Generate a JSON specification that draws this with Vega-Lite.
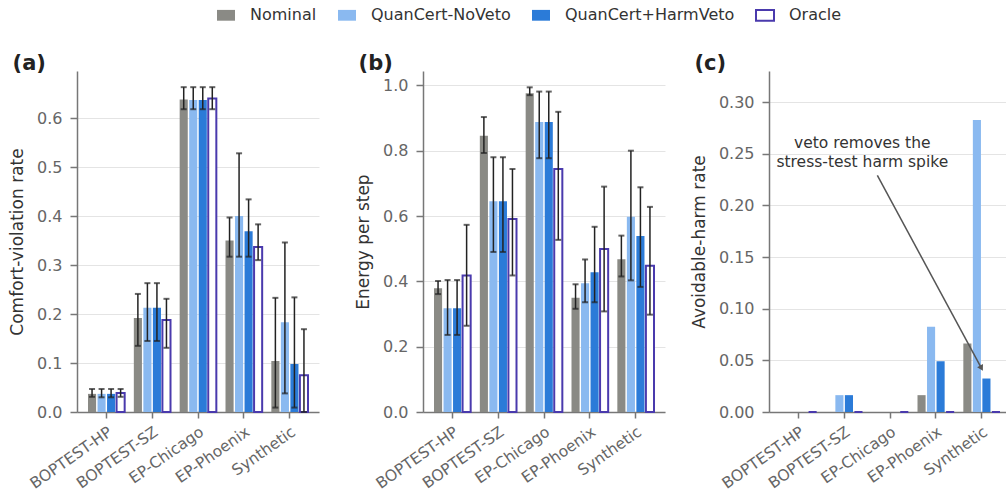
{
  "$schema": "https://vega.github.io/schema/vega-lite/v6.json",
  "padding": {"left": 8, "top": 5, "right": 0, "bottom": 0},
  "background": "white",
  "config": {
    "view": {"stroke": null},
    "font": "DejaVu Sans",
    "axis": {
      "labelFont": "DejaVu Sans", "labelFontSize": 16, "labelColor": "#666666",
      "titleFont": "DejaVu Sans", "titleFontSize": 17, "titleColor": "#333333", "titleFontWeight": "normal",
      "domainColor": "#777777", "domainWidth": 1.5, "tickColor": "#777777", "tickWidth": 1.5, "tickSize": 7,
      "labelPadding": 8, "titlePadding": 10, "gridColor": "#e4e4e4", "gridWidth": 1
    },
    "axisX": {"grid": false, "labelAngle": -35, "labelAlign": "right", "labelBaseline": "top", "labelPadding": 6, "tickSize": 6, "title": null, "labelFontSize": 15.5},
    "legend": {"labelLimit": 400},
    "title": {"font": "DejaVu Sans", "fontSize": 21, "fontWeight": "bold", "color": "#222222", "anchor": "start", "frame": "bounds", "baseline": "alphabetic", "offset": -3, "dx": 4}
  },
  "datasets": {
    "bars": [
      {"panel": "a", "env": "BOPTEST-HP", "method": "Nominal", "value": 0.037, "lo": 0.031, "hi": 0.047},
      {"panel": "a", "env": "BOPTEST-HP", "method": "QuanCert-NoVeto", "value": 0.037, "lo": 0.030, "hi": 0.047},
      {"panel": "a", "env": "BOPTEST-HP", "method": "QuanCert+HarmVeto", "value": 0.037, "lo": 0.030, "hi": 0.047},
      {"panel": "a", "env": "BOPTEST-HP", "method": "Oracle", "value": 0.039, "lo": 0.031, "hi": 0.047},
      {"panel": "a", "env": "BOPTEST-SZ", "method": "Nominal", "value": 0.192, "lo": 0.135, "hi": 0.241},
      {"panel": "a", "env": "BOPTEST-SZ", "method": "QuanCert-NoVeto", "value": 0.213, "lo": 0.145, "hi": 0.263},
      {"panel": "a", "env": "BOPTEST-SZ", "method": "QuanCert+HarmVeto", "value": 0.213, "lo": 0.145, "hi": 0.263},
      {"panel": "a", "env": "BOPTEST-SZ", "method": "Oracle", "value": 0.188, "lo": 0.131, "hi": 0.231},
      {"panel": "a", "env": "EP-Chicago", "method": "Nominal", "value": 0.638, "lo": 0.618, "hi": 0.663},
      {"panel": "a", "env": "EP-Chicago", "method": "QuanCert-NoVeto", "value": 0.637, "lo": 0.618, "hi": 0.663},
      {"panel": "a", "env": "EP-Chicago", "method": "QuanCert+HarmVeto", "value": 0.637, "lo": 0.618, "hi": 0.663},
      {"panel": "a", "env": "EP-Chicago", "method": "Oracle", "value": 0.640, "lo": 0.618, "hi": 0.663},
      {"panel": "a", "env": "EP-Phoenix", "method": "Nominal", "value": 0.350, "lo": 0.317, "hi": 0.397},
      {"panel": "a", "env": "EP-Phoenix", "method": "QuanCert-NoVeto", "value": 0.400, "lo": 0.317, "hi": 0.528},
      {"panel": "a", "env": "EP-Phoenix", "method": "QuanCert+HarmVeto", "value": 0.369, "lo": 0.317, "hi": 0.434},
      {"panel": "a", "env": "EP-Phoenix", "method": "Oracle", "value": 0.337, "lo": 0.310, "hi": 0.383},
      {"panel": "a", "env": "Synthetic", "method": "Nominal", "value": 0.104, "lo": 0.009, "hi": 0.233},
      {"panel": "a", "env": "Synthetic", "method": "QuanCert-NoVeto", "value": 0.183, "lo": 0.038, "hi": 0.346},
      {"panel": "a", "env": "Synthetic", "method": "QuanCert+HarmVeto", "value": 0.098, "lo": 0.009, "hi": 0.234},
      {"panel": "a", "env": "Synthetic", "method": "Oracle", "value": 0.075, "lo": 0.0, "hi": 0.169},
      {"panel": "b", "env": "BOPTEST-HP", "method": "Nominal", "value": 0.379, "lo": 0.361, "hi": 0.401},
      {"panel": "b", "env": "BOPTEST-HP", "method": "QuanCert-NoVeto", "value": 0.318, "lo": 0.236, "hi": 0.404},
      {"panel": "b", "env": "BOPTEST-HP", "method": "QuanCert+HarmVeto", "value": 0.318, "lo": 0.236, "hi": 0.404},
      {"panel": "b", "env": "BOPTEST-HP", "method": "Oracle", "value": 0.418, "lo": 0.264, "hi": 0.573},
      {"panel": "b", "env": "BOPTEST-SZ", "method": "Nominal", "value": 0.846, "lo": 0.793, "hi": 0.903},
      {"panel": "b", "env": "BOPTEST-SZ", "method": "QuanCert-NoVeto", "value": 0.645, "lo": 0.490, "hi": 0.780},
      {"panel": "b", "env": "BOPTEST-SZ", "method": "QuanCert+HarmVeto", "value": 0.645, "lo": 0.490, "hi": 0.780},
      {"panel": "b", "env": "BOPTEST-SZ", "method": "Oracle", "value": 0.591, "lo": 0.418, "hi": 0.744},
      {"panel": "b", "env": "EP-Chicago", "method": "Nominal", "value": 0.976, "lo": 0.970, "hi": 0.994},
      {"panel": "b", "env": "EP-Chicago", "method": "QuanCert-NoVeto", "value": 0.888, "lo": 0.777, "hi": 0.981},
      {"panel": "b", "env": "EP-Chicago", "method": "QuanCert+HarmVeto", "value": 0.888, "lo": 0.777, "hi": 0.981},
      {"panel": "b", "env": "EP-Chicago", "method": "Oracle", "value": 0.744, "lo": 0.527, "hi": 0.919},
      {"panel": "b", "env": "EP-Phoenix", "method": "Nominal", "value": 0.350, "lo": 0.316, "hi": 0.391},
      {"panel": "b", "env": "EP-Phoenix", "method": "QuanCert-NoVeto", "value": 0.394, "lo": 0.336, "hi": 0.467},
      {"panel": "b", "env": "EP-Phoenix", "method": "QuanCert+HarmVeto", "value": 0.428, "lo": 0.336, "hi": 0.567},
      {"panel": "b", "env": "EP-Phoenix", "method": "Oracle", "value": 0.499, "lo": 0.308, "hi": 0.690},
      {"panel": "b", "env": "Synthetic", "method": "Nominal", "value": 0.468, "lo": 0.415, "hi": 0.540},
      {"panel": "b", "env": "Synthetic", "method": "QuanCert-NoVeto", "value": 0.598, "lo": 0.403, "hi": 0.800},
      {"panel": "b", "env": "Synthetic", "method": "QuanCert+HarmVeto", "value": 0.539, "lo": 0.383, "hi": 0.688},
      {"panel": "b", "env": "Synthetic", "method": "Oracle", "value": 0.448, "lo": 0.298, "hi": 0.628},
      {"panel": "c", "env": "BOPTEST-HP", "method": "Nominal", "value": 0.0},
      {"panel": "c", "env": "BOPTEST-HP", "method": "QuanCert-NoVeto", "value": 0.0},
      {"panel": "c", "env": "BOPTEST-HP", "method": "QuanCert+HarmVeto", "value": 0.0},
      {"panel": "c", "env": "BOPTEST-HP", "method": "Oracle", "value": 0.0},
      {"panel": "c", "env": "BOPTEST-SZ", "method": "Nominal", "value": 0.0},
      {"panel": "c", "env": "BOPTEST-SZ", "method": "QuanCert-NoVeto", "value": 0.0163},
      {"panel": "c", "env": "BOPTEST-SZ", "method": "QuanCert+HarmVeto", "value": 0.0163},
      {"panel": "c", "env": "BOPTEST-SZ", "method": "Oracle", "value": 0.0},
      {"panel": "c", "env": "EP-Chicago", "method": "Nominal", "value": 0.0},
      {"panel": "c", "env": "EP-Chicago", "method": "QuanCert-NoVeto", "value": 0.0},
      {"panel": "c", "env": "EP-Chicago", "method": "QuanCert+HarmVeto", "value": 0.0},
      {"panel": "c", "env": "EP-Chicago", "method": "Oracle", "value": 0.0},
      {"panel": "c", "env": "EP-Phoenix", "method": "Nominal", "value": 0.0163},
      {"panel": "c", "env": "EP-Phoenix", "method": "QuanCert-NoVeto", "value": 0.0824},
      {"panel": "c", "env": "EP-Phoenix", "method": "QuanCert+HarmVeto", "value": 0.0490},
      {"panel": "c", "env": "EP-Phoenix", "method": "Oracle", "value": 0.0},
      {"panel": "c", "env": "Synthetic", "method": "Nominal", "value": 0.0662},
      {"panel": "c", "env": "Synthetic", "method": "QuanCert-NoVeto", "value": 0.2826},
      {"panel": "c", "env": "Synthetic", "method": "QuanCert+HarmVeto", "value": 0.0324},
      {"panel": "c", "env": "Synthetic", "method": "Oracle", "value": 0.0}
    ],
    "note": [{"xa": 1.396, "value": 0.2606, "label": "veto removes the\nstress-test harm spike"}],
    "arrow": [{"xa": 1.724, "value": 0.229, "xa2": 3.995, "value2": 0.0424}],
    "head": [{"xa": 3.995, "value": 0.0424}]
  },
  "spacing": 104,
  "bounds": "flush",
  "resolve": {"scale": {"fill": "shared", "stroke": "shared"}},
  "hconcat": [
    {
      "width": 242, "height": 341,
      "title": {"text": "(a)"},
      "data": {"name": "bars"},
      "transform": [{"filter": "datum.panel === 'a'"}],
      "encoding": {
        "x": {"field": "env", "type": "nominal", "sort": ["BOPTEST-HP", "BOPTEST-SZ", "EP-Chicago", "EP-Phoenix", "Synthetic"], "scale": {"paddingInner": 0.2, "paddingOuter": 0.24}},
        "xOffset": {"field": "method", "type": "nominal", "sort": ["Nominal", "QuanCert-NoVeto", "QuanCert+HarmVeto", "Oracle"], "scale": {"paddingInner": 0.15}}
      },
      "layer": [
        {
          "mark": {"type": "bar", "strokeWidth": 2},
          "encoding": {
            "y": {"field": "value", "type": "quantitative", "title": "Comfort-violation rate", "scale": {"domain": [0, 0.696], "nice": false}, "axis": {"values": [0, 0.1, 0.2, 0.3, 0.4, 0.5, 0.6], "format": ".1f"}},
            "fill": {"field": "method", "type": "nominal", "sort": ["Nominal", "QuanCert-NoVeto", "QuanCert+HarmVeto", "Oracle"],
              "scale": {"domain": ["Nominal", "QuanCert-NoVeto", "QuanCert+HarmVeto", "Oracle"], "range": ["#8a8a85", "#8ab9f0", "#2b7bd8", "#ffffff"]},
              "legend": {"orient": "none", "legendX": 139, "legendY": -66, "direction": "horizontal", "title": null, "padding": 0,
                "symbolType": "M-1,-0.6H1V0.6H-1Z", "symbolSize": 324, "symbolStrokeWidth": 2, "labelFont": "DejaVu Sans", "labelFontSize": 16, "labelColor": "#333333", "labelOffset": 14, "columnPadding": 17, "labelLimit": 400}},
            "stroke": {"field": "method", "type": "nominal", "sort": ["Nominal", "QuanCert-NoVeto", "QuanCert+HarmVeto", "Oracle"],
              "scale": {"domain": ["Nominal", "QuanCert-NoVeto", "QuanCert+HarmVeto", "Oracle"], "range": ["transparent", "transparent", "transparent", "#4a3aad"]},
              "legend": {"orient": "none", "legendX": 139, "legendY": -66, "direction": "horizontal", "title": null, "padding": 0,
                "symbolType": "M-1,-0.6H1V0.6H-1Z", "symbolSize": 324, "symbolStrokeWidth": 2, "labelFont": "DejaVu Sans", "labelFontSize": 16, "labelColor": "#333333", "labelOffset": 14, "columnPadding": 17, "labelLimit": 400}}
          }
        },
        {
          "mark": {"type": "rule", "color": "#222222", "strokeWidth": 1.5},
          "encoding": {"y": {"field": "lo", "type": "quantitative", "title": "Comfort-violation rate"}, "y2": {"field": "hi"}}
        },
        {
          "mark": {"type": "tick", "color": "#222222", "thickness": 2, "size": 6},
          "encoding": {"y": {"field": "lo", "type": "quantitative", "title": "Comfort-violation rate"}}
        },
        {
          "mark": {"type": "tick", "color": "#222222", "thickness": 2, "size": 6},
          "encoding": {"y": {"field": "hi", "type": "quantitative", "title": "Comfort-violation rate"}}
        }
      ]
    },
    {
      "width": 242, "height": 341,
      "title": {"text": "(b)"},
      "data": {"name": "bars"},
      "transform": [{"filter": "datum.panel === 'b'"}],
      "encoding": {
        "x": {"field": "env", "type": "nominal", "sort": ["BOPTEST-HP", "BOPTEST-SZ", "EP-Chicago", "EP-Phoenix", "Synthetic"], "scale": {"paddingInner": 0.2, "paddingOuter": 0.24}},
        "xOffset": {"field": "method", "type": "nominal", "sort": ["Nominal", "QuanCert-NoVeto", "QuanCert+HarmVeto", "Oracle"], "scale": {"paddingInner": 0.15}}
      },
      "layer": [
        {
          "mark": {"type": "bar", "strokeWidth": 2},
          "encoding": {
            "y": {"field": "value", "type": "quantitative", "title": "Energy per step", "scale": {"domain": [0, 1.044], "nice": false}, "axis": {"values": [0, 0.2, 0.4, 0.6, 0.8, 1.0], "format": ".1f"}},
            "fill": {"field": "method", "type": "nominal", "sort": ["Nominal", "QuanCert-NoVeto", "QuanCert+HarmVeto", "Oracle"], "legend": {"orient": "none", "legendX": 139, "legendY": -66, "direction": "horizontal", "title": null, "padding": 0,
                "symbolType": "M-1,-0.6H1V0.6H-1Z", "symbolSize": 324, "symbolStrokeWidth": 2, "labelFont": "DejaVu Sans", "labelFontSize": 16, "labelColor": "#333333", "labelOffset": 14, "columnPadding": 17, "labelLimit": 400}},
            "stroke": {"field": "method", "type": "nominal", "sort": ["Nominal", "QuanCert-NoVeto", "QuanCert+HarmVeto", "Oracle"], "legend": {"orient": "none", "legendX": 139, "legendY": -66, "direction": "horizontal", "title": null, "padding": 0,
                "symbolType": "M-1,-0.6H1V0.6H-1Z", "symbolSize": 324, "symbolStrokeWidth": 2, "labelFont": "DejaVu Sans", "labelFontSize": 16, "labelColor": "#333333", "labelOffset": 14, "columnPadding": 17, "labelLimit": 400}}
          }
        },
        {
          "mark": {"type": "rule", "color": "#222222", "strokeWidth": 1.5},
          "encoding": {"y": {"field": "lo", "type": "quantitative", "title": "Energy per step"}, "y2": {"field": "hi"}}
        },
        {
          "mark": {"type": "tick", "color": "#222222", "thickness": 2, "size": 6},
          "encoding": {"y": {"field": "lo", "type": "quantitative", "title": "Energy per step"}}
        },
        {
          "mark": {"type": "tick", "color": "#222222", "thickness": 2, "size": 6},
          "encoding": {"y": {"field": "hi", "type": "quantitative", "title": "Energy per step"}}
        }
      ]
    },
    {
      "width": 242, "height": 341,
      "title": {"text": "(c)"},
      "resolve": {"scale": {"x": "independent"}, "axis": {"x": "independent"}},
      "layer": [
        {
          "data": {"name": "bars"},
          "transform": [{"filter": "datum.panel === 'c'"}],
          "mark": {"type": "bar", "strokeWidth": 2},
          "encoding": {
            "x": {"field": "env", "type": "nominal", "sort": ["BOPTEST-HP", "BOPTEST-SZ", "EP-Chicago", "EP-Phoenix", "Synthetic"], "scale": {"paddingInner": 0.2, "paddingOuter": 0.24}},
            "xOffset": {"field": "method", "type": "nominal", "sort": ["Nominal", "QuanCert-NoVeto", "QuanCert+HarmVeto", "Oracle"], "scale": {"paddingInner": 0.15}},
            "y": {"field": "value", "type": "quantitative", "title": "Avoidable-harm rate", "scale": {"domain": [0, 0.33], "nice": false}, "axis": {"values": [0, 0.05, 0.1, 0.15, 0.2, 0.25, 0.3], "format": ".2f"}},
            "fill": {"field": "method", "type": "nominal", "sort": ["Nominal", "QuanCert-NoVeto", "QuanCert+HarmVeto", "Oracle"], "legend": {"orient": "none", "legendX": 139, "legendY": -66, "direction": "horizontal", "title": null, "padding": 0,
                "symbolType": "M-1,-0.6H1V0.6H-1Z", "symbolSize": 324, "symbolStrokeWidth": 2, "labelFont": "DejaVu Sans", "labelFontSize": 16, "labelColor": "#333333", "labelOffset": 14, "columnPadding": 17, "labelLimit": 400}},
            "stroke": {"field": "method", "type": "nominal", "sort": ["Nominal", "QuanCert-NoVeto", "QuanCert+HarmVeto", "Oracle"], "legend": {"orient": "none", "legendX": 139, "legendY": -66, "direction": "horizontal", "title": null, "padding": 0,
                "symbolType": "M-1,-0.6H1V0.6H-1Z", "symbolSize": 324, "symbolStrokeWidth": 2, "labelFont": "DejaVu Sans", "labelFontSize": 16, "labelColor": "#333333", "labelOffset": 14, "columnPadding": 17, "labelLimit": 400}}
          }
        },
        {
          "data": {"name": "arrow"},
          "mark": {"type": "rule", "color": "#555555", "strokeWidth": 1.5},
          "encoding": {
            "x": {"field": "xa", "type": "quantitative", "scale": {"domain": [-0.64, 4.64], "nice": false, "zero": false}, "axis": null},
            "x2": {"field": "xa2"},
            "y": {"field": "value", "type": "quantitative", "title": "Avoidable-harm rate"},
            "y2": {"field": "value2"}
          }
        },
        {
          "data": {"name": "head"},
          "mark": {"type": "point", "shape": "triangle-up", "filled": true, "color": "#555555", "size": 45, "angle": 151, "opacity": 1},
          "encoding": {
            "x": {"field": "xa", "type": "quantitative", "scale": {"domain": [-0.64, 4.64], "nice": false, "zero": false}, "axis": null},
            "y": {"field": "value", "type": "quantitative", "title": "Avoidable-harm rate"}
          }
        },
        {
          "data": {"name": "note"},
          "mark": {"type": "text", "font": "DejaVu Sans", "fontSize": 15.5, "color": "#333333", "align": "center", "baseline": "middle", "lineBreak": "\n", "lineHeight": 19},
          "encoding": {
            "x": {"field": "xa", "type": "quantitative", "scale": {"domain": [-0.64, 4.64], "nice": false, "zero": false}, "axis": null},
            "y": {"field": "value", "type": "quantitative", "title": "Avoidable-harm rate"},
            "text": {"field": "label"}
          }
        }
      ]
    }
  ]
}
